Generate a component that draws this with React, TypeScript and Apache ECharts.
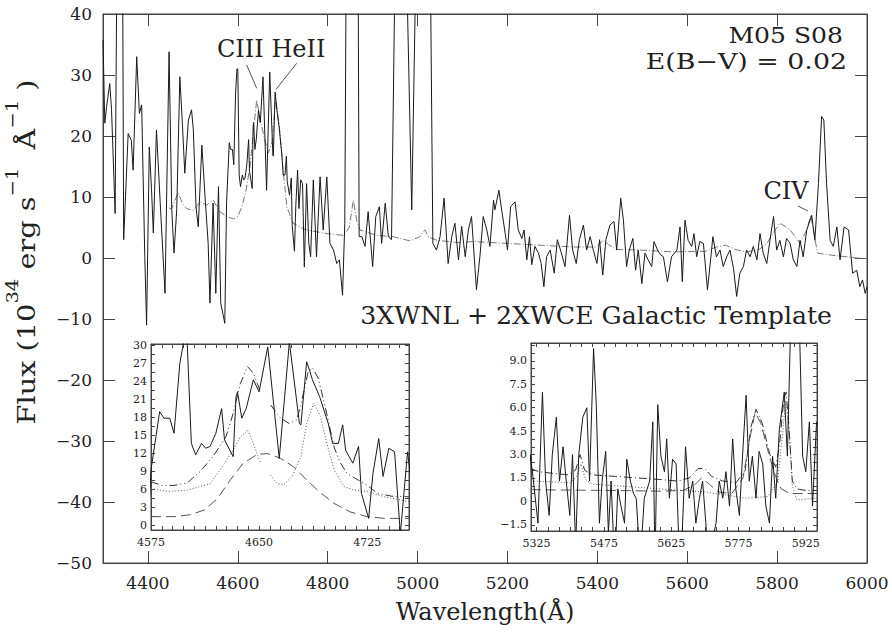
import React, { useEffect, useRef } from 'react';
import * as echarts from 'echarts';

const FONT = '"DejaVu Serif", "Liberation Serif", serif';
const INK = '#222';

// ---------- main panel axes ----------
const mainXRange = [4300, 6000];
const mainYRange = [-50, 40];
const mainXTicks = [4400, 4600, 4800, 5000, 5200, 5400, 5600, 5800, 6000];

// ---------- insets axes ----------
const leftXRange = [4575, 4754];
const leftYRange = [-0.83, 30.17];
const leftXLabels = [4575, 4650, 4725];
const leftYLabels = [0, 3, 6, 9, 12, 15, 18, 21, 24, 27, 30];
const rightXRange = [5312.5, 5950];
const rightYRange = [-1.9, 10.15];
const rightXLabels = [5325, 5475, 5625, 5775, 5925];
const rightYLabels = [-1.5, 0, 1.5, 3, 4.5, 6, 7.5, 9];

// ---------- observed spectrum (wavelength, flux) ----------
const observedSpectrum: [number, number][] = [
  [4300, 35.7], [4304, 22.1], [4308, 24.8], [4315, 28.6], [4319, 24.3], [4327, 7.3], [4332, 60], [4343, 60], [4346, 3.0],
  [4356, 20.4], [4363, 19.3], [4367, 14.4], [4375, 33.0], [4381, 23.7], [4386, 25.1], [4393, 0.2], [4397, -11.0], [4403, 18.2],
  [4408, 11.2], [4412, 4.1], [4419, 21.0], [4427, 9.5], [4438, -5.8], [4447, 33.8], [4453, 7.9], [4458, 0.8], [4464, 7.9],
  [4471, 29.7], [4477, 21.5], [4482, 13.9], [4490, 22.6], [4497, 24.3], [4501, 21.0], [4507, 8.4], [4512, 5.1], [4520, 18.5],
  [4527, 10.1], [4534, 2.4], [4538, -7.4], [4545, 9.0], [4551, -5.8], [4557, 11.7], [4562, -7.4], [4571, -10.7],
  [4575, 9.2], [4581, 18.9], [4584, 17.8], [4588, 17.8], [4591, 15.3], [4595, 26.9], [4598, 31], [4600, 31], [4603, 13.6],
  [4606, 11.7], [4610, 13.6], [4613, 12.8], [4616, 13.1], [4620, 15.3], [4624, 19.4], [4626, 14.2], [4632, 11.4], [4634, 21.4],
  [4635, 22.2], [4638, 17.8], [4641, 19.4], [4646, 24.2], [4650, 22.2], [4656, 29.7], [4664, 11.1], [4671, 30.5], [4678, 16.9],
  [4679, 16.7], [4683, 27.2], [4685, 25.8], [4687, 24.2], [4692, 21.4], [4698, 16.9], [4701, 13.6], [4705, 13.6], [4708, 16.7],
  [4710, 12.5], [4715, 10.3], [4719, 13.1], [4721, 5.3], [4726, 1.1], [4729, 8.6], [4733, 14.4], [4736, 8.1], [4740, 12.8],
  [4744, 12.2], [4748, -1.5],
  [4753, 12.2], [4758, 2.4], [4762, 0.2], [4768, 12.8], [4775, 0.2], [4783, 13.3], [4790, 4.6], [4798, 13.3], [4805, 2.4],
  [4813, 1.3], [4820, -0.9], [4826, -0.3], [4833, -6.1], [4838, 5.7], [4842, 60], [4867, 60], [4870, 3.5], [4876, 3.5],
  [4883, 1.9], [4890, 7.6], [4900, -1.4], [4907, 6.8], [4915, 8.4], [4920, 2.4], [4928, 9.0], [4935, 3.5], [4942, 3.0],
  [4952, 60], [4972, 60], [4987, 7.9], [4999, 60], [5027, 60], [5034, 2.4], [5042, 1.3], [5050, 3.5], [5059, 9.8],
  [5068, -0.9], [5076, 3.5], [5083, 5.7], [5091, -0.3], [5098, 5.2], [5106, 0.2], [5113, 4.6], [5120, 6.8], [5131, -5.2],
  [5139, 0.5], [5146, 6.8], [5154, 4.6], [5161, 1.9], [5169, 9.5], [5172, 7.9], [5181, 11.1], [5187, 7.9], [5195, 4.0],
  [5200, 1.3], [5207, 8.4], [5217, 9.2], [5224, 4.6], [5232, 3.2], [5237, 4.6], [5243, -0.3], [5249, 3.5], [5254, -1.1],
  [5261, 1.9], [5269, 0.8], [5275, -0.9], [5281, -4.7], [5287, 0.2], [5295, 1.3], [5304, -2.5], [5311, 3.0], [5318, 1.3],
  [5328, -1.4], [5338, 7.0], [5345, 1.3], [5353, -0.9], [5360, 3.0], [5369, 5.4], [5376, 1.3], [5384, 3.5], [5391, 1.3],
  [5399, -0.9], [5405, 3.0], [5412, -2.8], [5419, 3.0], [5428, 5.4], [5437, 6.0], [5443, 1.3], [5452, 9.8], [5458, 6.2],
  [5465, -1.4], [5471, 1.3], [5479, 3.2], [5485, -2.0], [5491, 1.3], [5499, -4.2], [5506, 0.8], [5513, -0.3], [5521, -1.4],
  [5526, 2.7], [5534, 1.3], [5541, 0.5], [5547, 0.2], [5556, -3.9], [5565, 0.2], [5577, 1.3], [5584, 5.1], [5589, -3.9],
  [5595, 6.2], [5602, 2.9], [5610, 1.9], [5615, 4.0], [5621, 0.2], [5628, 2.7], [5636, 2.4], [5645, -5.2], [5652, -0.3],
  [5657, 3.5], [5665, 0.2], [5673, 1.3], [5680, -1.4], [5688, 0.2], [5695, 1.3], [5703, -1.7], [5710, -6.3], [5717, -2.5],
  [5725, -1.4], [5732, 1.3], [5740, 0.2], [5747, 1.9], [5755, -0.3], [5762, 4.0], [5769, 0.8], [5777, -0.9], [5784, 2.9],
  [5792, 6.8], [5799, 1.3], [5806, 2.9], [5814, 0.2], [5821, 3.2], [5829, 2.4], [5836, -0.3], [5844, -1.4], [5851, 2.9],
  [5858, 0.2], [5866, 4.6], [5877, 7.0], [5884, 2.9], [5892, 12.2], [5899, 23.2], [5904, 22.6], [5910, 12.2], [5918, 2.9],
  [5925, 1.9], [5933, 5.1], [5940, -0.3], [5949, 5.1], [5959, 4.6], [5968, -2.5], [5977, -2.0], [5984, -4.7], [5990, -3.6],
  [5996, -5.8], [6000, -4.7],
];

// ---------- galactic template (3XWNL + 2XWCE), main panel ----------
const templateMain: [number, number][] = [
  [4447, 8.2], [4452, 8.0], [4460, 9.5], [4468, 10.7], [4476, 9.0], [4486, 8.1], [4501, 7.8], [4516, 9.2], [4531, 8.7],
  [4545, 9.5], [4560, 7.6], [4575, 6.8], [4590, 6.4], [4600, 6.8], [4609, 8.4], [4618, 11], [4627, 14.9], [4635, 21],
  [4642, 25.9], [4650, 22.5], [4658, 20], [4668, 17.2], [4676, 19], [4684, 26], [4692, 22], [4700, 15], [4709, 8.4],
  [4723, 5.7], [4740, 5.0], [4753, 4.6], [4798, 4.0], [4835, 3.7], [4848, 5.0], [4857, 9.5], [4865, 6], [4872, 4.6],
  [4909, 3.7], [4946, 3.5], [4983, 2.8], [5005, 3.5], [5016, 4.6], [5025, 3.4], [5043, 2.9], [5094, 2.5], [5124, 2.7],
  [5198, 2.4], [5272, 2.1], [5347, 1.8], [5398, 1.8], [5413, 2.9], [5425, 2.2], [5443, 1.4], [5495, 1.3], [5569, 1.0],
  [5640, 1.1], [5665, 1.8], [5685, 2.1], [5711, 1.3], [5732, 1.0], [5760, 1.4], [5777, 2.4], [5795, 4.5], [5806, 5.7],
  [5818, 5.2], [5829, 4.6], [5851, 2.4], [5865, 4.5], [5875, 7.0], [5882, 4.0], [5890, 0.8], [5918, 0.5], [5977, 0.0],
  [6000, -0.1],
];

// ---------- left inset template components ----------
const totalLeft: [number, number | null][] = [
  [4575, 7.2], [4583, 6.6], [4591, 6.6], [4600, 7.0], [4609, 8.9], [4618, 11.4], [4627, 14.7], [4632, 18.6], [4637, 23.6],
  [4642, 26.4], [4646, 25.3], [4651, 22.2], [4654.5, null], [4658, 20], [4665, 17.8], [4671, 16.9], [4676, 17.5],
  [4679, 20], [4684, 25.5], [4687, 26.2], [4691, 24.5], [4697, 18.5], [4702, 13], [4706, 10.5], [4711, 8.6], [4718, 7.6],
  [4725, 6.6], [4732, 5.3], [4742, 4.8], [4754, 4.7],
];
const wnlLeft: [number, number | null][] = [
  [4575, 6.1], [4586, 5.6], [4600, 5.8], [4609, 6.4], [4616, 6.9], [4623, 9.2], [4632, 12.5], [4637, 14.7], [4642, 15.8],
  [4646, 13.6], [4651, 10.3], [4654.5, null], [4658, 8.3], [4662.5, 6.9], [4667, 6.7], [4673, 8.1], [4679, 11.4],
  [4683, 16.9], [4688, 20.3], [4692.5, 18.1], [4697, 13.6], [4702, 9.2], [4709, 6.4], [4716, 5.8], [4725, 5.6],
  [4737, 4.7], [4754, 3.9],
];
const wceLeft: [number, number][] = [
  [4575, 1.4], [4591, 1.4], [4602, 1.7], [4612, 2.5], [4621, 4.4], [4630, 7.5], [4639, 10.3], [4649, 11.8], [4656, 11.9],
  [4665, 11.1], [4674, 9.7], [4683, 7.5], [4693, 5.3], [4702, 3.6], [4713, 2.2], [4725, 1.4], [4737, 1.1], [4754, 1.1],
];

// ---------- right inset template components ----------
const totalRight: [number, number][] = [
  [5312, 2.1], [5330, 1.9], [5360, 1.8], [5395, 1.7], [5412, 2.0], [5422, 3.0], [5432, 2.0], [5450, 1.7], [5500, 1.6],
  [5550, 1.5], [5600, 1.4], [5640, 1.3], [5665, 1.5], [5685, 2.1], [5700, 2.1], [5715, 1.6], [5740, 1.3], [5770, 1.2],
  [5790, 2.0], [5803, 4.8], [5814, 5.9], [5828, 5.0], [5845, 3.0], [5858, 2.2], [5866, 3.5], [5876, 6.5], [5881, 7.0],
  [5887, 5.0], [5895, 1.3], [5905, 0.8], [5925, 0.7], [5950, 0.7],
];
const wnlRight: [number, number][] = [
  [5312, 1.3], [5360, 1.25], [5400, 1.2], [5414, 1.6], [5424, 2.4], [5434, 1.4], [5450, 1.1], [5500, 1.0], [5550, 0.9],
  [5600, 0.8], [5650, 0.7], [5700, 0.6], [5750, 0.4], [5790, 0.2], [5840, 0.3], [5862, 1.2], [5872, 4.0], [5880, 6.4],
  [5888, 4.5], [5895, 1.0], [5905, 0.1], [5950, 0.2],
];
const wceRight: [number, number][] = [
  [5312, 0.75], [5400, 0.72], [5500, 0.7], [5600, 0.65], [5650, 0.7], [5675, 1.0], [5693, 1.5], [5710, 1.1], [5730, 0.6],
  [5760, 0.5], [5785, 1.5], [5800, 4.0], [5812, 5.7], [5825, 5.0], [5840, 3.3], [5855, 1.8], [5870, 0.8], [5890, 0.5],
  [5950, 0.5],
];

// helper for tick positions (axis decoration only)
function steps(a: number, b: number, s: number): number[] {
  const out: number[] = [];
  for (let v = a; v <= b + 1e-9; v += s) out.push(Math.round(v * 100) / 100);
  return out;
}

const minus = (s: string) => s.replace('-', '\u2212');

function xAxisPair(grid: number, range: number[], tickVals: number[] | null, labelVals: number[] | null, interval: number | null,
  tickLen: number, fontSize: number, margin: number, lineColor: string) {
  const common: any = {
    type: 'value', gridIndex: grid, min: range[0], max: range[1],
    splitLine: { show: false },
    axisLine: { show: true, onZero: false, lineStyle: { color: lineColor, width: 1 } },
  };
  if (interval) common.interval = interval;
  const tick: any = { show: true, inside: true, length: tickLen, lineStyle: { color: lineColor, width: 1 } };
  if (tickVals) tick.customValues = tickVals;
  const label: any = { show: true, margin, fontFamily: FONT, fontSize, color: INK, formatter: (v: number) => minus(String(v)) };
  if (labelVals) label.customValues = labelVals;
  return [
    { ...common, position: 'bottom', axisTick: tick, axisLabel: label },
    { ...common, position: 'top', axisTick: tick, axisLabel: { show: false } },
  ];
}

function yAxisPair(grid: number, range: number[], tickVals: number[] | null, labelVals: number[] | null, interval: number | null,
  tickLen: number, fontSize: number, margin: number, lineColor: string, fmt: (v: number) => string) {
  const common: any = {
    type: 'value', gridIndex: grid, min: range[0], max: range[1],
    splitLine: { show: false },
    axisLine: { show: true, onZero: false, lineStyle: { color: lineColor, width: 1 } },
  };
  if (interval) common.interval = interval;
  const tick: any = { show: true, inside: true, length: tickLen, lineStyle: { color: lineColor, width: 1 } };
  if (tickVals) tick.customValues = tickVals;
  const label: any = { show: true, margin, fontFamily: FONT, fontSize, color: INK, formatter: fmt };
  if (labelVals) label.customValues = labelVals;
  return [
    { ...common, position: 'left', axisTick: tick, axisLabel: label },
    { ...common, position: 'right', axisTick: tick, axisLabel: { show: false } },
  ];
}

function lineSeries(data: any[], xi: number, yi: number, color: string, type: any, width = 1) {
  return {
    type: 'line', data, xAxisIndex: xi, yAxisIndex: yi, showSymbol: false, symbol: 'none', clip: true,
    connectNulls: false, silent: true,
    lineStyle: { color, width, type },
  };
}

const AX = '#444';

function label(text: string, x: number, y: number, align: string, fontSize: number, scaleX = 1) {
  return {
    type: 'text', x, y, scaleX, silent: true,
    style: { text, fontSize, fontFamily: FONT, fill: INK, align, verticalAlign: 'middle' },
  };
}

const option: any = {
  animation: false,
  backgroundColor: '#fff',
  grid: [
    { left: 103, top: 14, width: 764, height: 549, show: true, borderColor: AX, backgroundColor: '#fff' },
    { left: 151, top: 344, width: 258, height: 186, show: true, borderColor: AX, backgroundColor: '#fff' },
    { left: 531, top: 343, width: 286, height: 188, show: true, borderColor: AX, backgroundColor: '#fff' },
  ],
  xAxis: [
    ...xAxisPair(0, mainXRange, mainXTicks, mainXTicks, null, 12, 17, 11, AX),
    ...xAxisPair(1, leftXRange, steps(4575, 4754, 7.5), leftXLabels, null, 4, 11, 7, AX),
    ...xAxisPair(2, rightXRange, steps(5325, 5950, 25), rightXLabels, null, 4, 11, 7, AX),
  ],
  yAxis: [
    ...yAxisPair(0, mainYRange, null, null, 10, 12, 17, 11, AX, (v) => minus(String(v))),
    ...yAxisPair(1, leftYRange, steps(0, 30, 1.5), leftYLabels, null, 4, 11, 4, AX, (v) => String(v)),
    ...yAxisPair(2, rightYRange, steps(-1.5, 10, 0.5), rightYLabels, null, 4, 11, 4, AX,
      (v) => (v === 0 ? '0' : minus(v.toFixed(1)))),
  ],
  series: [
    lineSeries(templateMain, 0, 0, '#777', [7, 2, 1, 2]),
    lineSeries(observedSpectrum, 0, 0, '#1a1a1a', 'solid'),
    lineSeries(wceLeft, 2, 2, '#555', [10, 5]),
    lineSeries(wnlLeft, 2, 2, '#555', [1, 2]),
    lineSeries(totalLeft, 2, 2, '#333', [8, 3, 1, 3, 1, 3]),
    lineSeries(observedSpectrum, 2, 2, '#1a1a1a', 'solid'),
    lineSeries(wceRight, 4, 4, '#555', [10, 5]),
    lineSeries(wnlRight, 4, 4, '#555', [1, 2]),
    lineSeries(totalRight, 4, 4, '#333', [8, 3, 1, 3]),
    lineSeries(observedSpectrum, 4, 4, '#1a1a1a', 'solid'),
  ],
  graphic: [
    label('CIII HeII', 217, 49, 'left', 24),
    { type: 'line', silent: true, shape: { x1: 246.7, y1: 65, x2: 256.7, y2: 88.3 }, style: { stroke: '#555', lineWidth: 1 } },
    { type: 'line', silent: true, shape: { x1: 296.7, y1: 63.3, x2: 276, y2: 89.3 }, style: { stroke: '#555', lineWidth: 1 } },
    label('M05 S08', 843, 36, 'right', 22, 1.14),
    label('E(B\u2212V) = 0.02', 847, 61, 'right', 22, 1.22),
    label('CIV', 786, 191, 'center', 24),
    { type: 'line', silent: true, shape: { x1: 798, y1: 206, x2: 808, y2: 211 }, style: { stroke: '#555', lineWidth: 1 } },
    label('3XWNL + 2XWCE Galactic Template', 832, 316, 'right', 24, 1.05),
    label('Wavelength(\u00c5)', 485, 612, 'center', 24),
    { type: 'text', x: 21, y: 252, rotation: Math.PI / 2, scaleX: 1.15, silent: true,
      style: {
        text: '{a|Flux (10}{s|34}{a| erg s}{s|\u22121}{a|  \u00c5}{s|\u22121}{a| )}',
        align: 'center', verticalAlign: 'middle', fill: INK,
        rich: {
          a: { fontSize: 25, fontFamily: FONT, fill: INK, lineHeight: 36, verticalAlign: 'bottom' },
          s: { fontSize: 17, fontFamily: FONT, fill: INK, lineHeight: 17, verticalAlign: 'top' },
        },
      } },
  ],
};

export default function App() {
  const ref = useRef<HTMLDivElement>(null);
  useEffect(() => {
    const chart = echarts.init(ref.current as HTMLDivElement, null, { renderer: 'svg' });
    chart.setOption(option);
    return () => chart.dispose();
  }, []);
  return (
    <div
      ref={ref}
      style={{ position: 'fixed', left: 0, top: 0, width: 892, height: 637, background: '#fff' }}
    />
  );
}
